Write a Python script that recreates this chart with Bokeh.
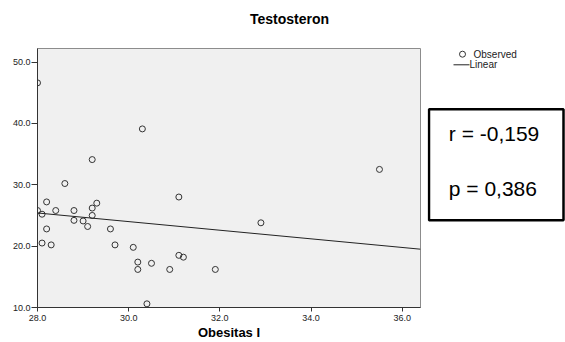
from bokeh.plotting import figure
from bokeh.layouts import row, column
from bokeh.models import FixedTicker, NumeralTickFormatter, Range1d
from bokeh.core.properties import value
from bokeh.embed import file_html
from bokeh.resources import INLINE

# ---- data ----
obesitas = [28.0, 30.3, 29.2, 28.6, 28.0, 28.1, 28.2, 28.4, 28.8, 28.8, 29.0, 29.1,
            29.2, 29.2, 29.3, 28.2, 28.1, 28.3, 29.6, 29.7, 30.1, 30.2, 30.2, 30.5,
            30.4, 30.9, 31.1, 31.1, 31.2, 31.9, 32.9, 35.5]
testosteron = [46.6, 39.1, 34.1, 30.2, 25.8, 25.2, 27.2, 25.8, 25.8, 24.2, 24.1, 23.2,
               26.2, 25.0, 27.0, 22.8, 20.5, 20.2, 22.8, 20.2, 19.8, 17.4, 16.2, 17.2,
               10.6, 16.2, 28.0, 18.5, 18.2, 16.2, 23.8, 32.5]
fit_x = [28.0, 36.4]
fit_y = [25.4, 19.5]
x_ticks = [28, 30, 32, 34, 36]
y_ticks = [10, 20, 30, 40, 50]
title_text = "Testosteron"
x_label = "Obesitas I"
stats_lines = ["r = -0,159", "p = 0,386"]
legend_labels = ["Observed", "Linear"]

FONT = "Liberation Sans"


def blank(width, height):
    f = figure(width=width, height=height, output_backend="svg", toolbar_location=None,
               x_range=Range1d(0, width), y_range=Range1d(height, 0),
               min_border=0, x_axis_location=None, y_axis_location=None)
    f.outline_line_color = None
    f.background_fill_color = "white"
    f.border_fill_color = "white"
    f.xgrid.visible = False
    f.ygrid.visible = False
    return f


# ---- title strip ----
t = blank(427, 47)
t.text(x=[281], y=[18], text=[title_text], text_align="center",
       text_baseline="middle", text_font=value(FONT), text_font_style="bold",
       text_font_size="14px", text_color="black")

# ---- main scatter plot ----
p = figure(width=427, height=295, output_backend="svg", toolbar_location=None,
           x_range=Range1d(28.0, 36.4), y_range=Range1d(10.0, 52.2),
           min_border_left=37, min_border_right=7, min_border_top=1,
           min_border_bottom=33)
p.background_fill_color = "#f0f0f0"
p.border_fill_color = "white"
p.outline_line_color = "#8c8c8c"
p.outline_line_width = 1
p.xgrid.visible = False
p.ygrid.visible = False

for ax, ticks in ((p.xaxis, x_ticks), (p.yaxis, y_ticks)):
    ax.ticker = FixedTicker(ticks=ticks)
    ax.formatter = NumeralTickFormatter(format="0.0")
    ax.axis_line_color = "#333333"
    ax.major_tick_line_color = "#333333"
    ax.major_tick_in = 0
    ax.minor_tick_line_color = None
    ax.major_label_text_font = FONT
    ax.major_label_text_font_size = "9px"
    ax.major_label_text_color = "#222222"

p.xaxis.major_tick_out = 4
p.xaxis.major_label_standoff = 3
p.yaxis.major_tick_out = 6
p.yaxis.major_label_standoff = 1

p.xaxis.axis_label = x_label
p.xaxis.axis_label_text_font = FONT
p.xaxis.axis_label_text_font_style = "bold"
p.xaxis.axis_label_text_font_size = "13px"
p.xaxis.axis_label_text_color = "black"
p.xaxis.axis_label_standoff = 1

p.scatter(obesitas, testosteron, marker="circle", size=6,
          fill_alpha=0, line_color="#333333", line_width=1)
p.line(fit_x, fit_y, line_color="#222222", line_width=1)

# ---- side panel: legend and statistics box ----
s = blank(138, 342)
s.scatter(x=[35], y=[53.7], marker="circle", size=6, fill_alpha=0,
          line_color="#333333", line_width=1)
s.line(x=[26, 42], y=[64.3, 64.3], line_color="#222222", line_width=1)
s.text(x=[46, 42], y=[53.7, 64.3], text=legend_labels, text_align="left",
       text_baseline="middle", text_font=value(FONT), text_font_size="10px",
       text_color="#222222")
s.quad(left=[1.5], right=[136], top=[108.7], bottom=[219.7], fill_color="white",
       line_color="black", line_width=2.5)
s.text(x=[21.3, 21.3], y=[133, 188], text=stats_lines, text_align="left",
       text_baseline="middle", text_font=value(FONT), text_font_size="21px",
       text_color="black")

layout = row(column(t, p, spacing=0), s, spacing=0)

open("out.html", "w").write(file_html(layout, INLINE))
